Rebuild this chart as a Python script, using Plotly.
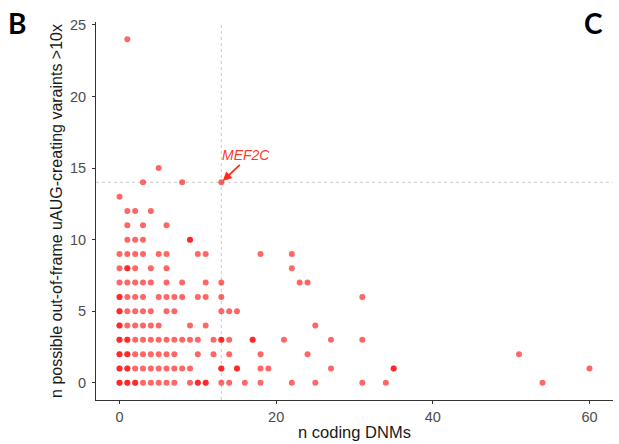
import plotly.graph_objects as go

# Data: (x = n coding DNMs, y = n possible out-of-frame uAUG-creating variants >10x)
rows = {
    24: [1],
    15: [5],
    14: [3, 8, 13],
    13: [0],
    12: [1, 2, 4],
    11: [1, 3, 6],
    10: [1, 2, 3, 9, 9],
    9: [0, 1, 2, 3, 5, 6, 10, 11, 18, 22],
    8: [0, 1, 1, 2, 4, 6, 22],
    7: [0, 1, 2, 3, 4, 6, 8, 11, 13, 23, 24],
    6: [0, 0, 1, 2, 3, 5, 6, 7, 8, 10, 11, 13, 31],
    5: [0, 0, 1, 2, 3, 4, 6, 7, 13, 14, 15],
    4: [0, 0, 1, 2, 3, 4, 5, 9, 11, 25],
    3: [0, 0, 1, 1, 2, 3, 4, 5, 6, 7, 8, 9, 10, 12, 13, 13, 14, 17, 17, 21, 27, 31],
    2: [0, 0, 1, 1, 2, 3, 4, 5, 6, 7, 10, 12, 14, 18, 24, 51],
    1: [0, 0, 1, 1, 2, 3, 4, 5, 6, 7, 8, 9, 13, 13, 15, 15, 18, 19, 27, 35, 35, 60],
    0: [0, 0, 1, 1, 2, 2, 3, 4, 5, 6, 7, 9, 10, 10, 11, 11, 13, 14, 16, 18, 22, 25, 31, 34, 54],
}
x_dnms = [x for y, xs in rows.items() for x in xs]
y_uaug = [y for y, xs in rows.items() for _ in xs]

x_ticks = [0, 20, 40, 60]
y_ticks = [0, 5, 10, 15, 20, 25]
gene_label = "MEF2C"
gene_x, gene_y = 13, 14

L, R, T, B = 96, 6, 22, 44
W, H = 619, 444
PW, PH = W - L - R, H - T - B

fig = go.Figure()
fig.add_trace(go.Scatter(
    x=x_dnms, y=y_uaug, mode="markers",
    marker=dict(color="rgba(255,0,0,0.6)", size=6, line=dict(width=0)),
    hoverinfo="x+y", showlegend=False,
))

fig.add_shape(type="line", xref="x", yref="paper", x0=gene_x, x1=gene_x, y0=0, y1=1,
              line=dict(color="#d4d4d4", width=1.2, dash="dot"), layer="below")
fig.add_shape(type="line", xref="paper", yref="y", x0=0, x1=1, y0=gene_y, y1=gene_y,
              line=dict(color="#d4d4d4", width=1.2, dash="dot"), layer="below")

# arrow
fig.add_annotation(x=gene_x, y=gene_y, xref="x", yref="y", text="",
                   showarrow=True, arrowhead=2, arrowsize=1, arrowwidth=1.8, arrowcolor="#ff2a1a",
                   ax=20, ay=-19, standoff=2)
# label
fig.add_annotation(x=gene_x, y=gene_y, xref="x", yref="y", text="<i>" + gene_label + "</i>",
                   showarrow=False, xshift=25, yshift=27,
                   font=dict(family="Liberation Sans, Arial", size=14, color="#ff3a2a"),
                   xanchor="center", yanchor="middle")

# panel letters
fig.add_annotation(x=(17 - L) / PW, y=1 - (23 - T) / PH, xref="paper", yref="paper", text="<b>B</b>",
                   showarrow=False, xanchor="center", yanchor="middle",
                   font=dict(family="Lato, Open Sans", size=28, color="black"))
fig.add_annotation(x=(593 - L) / PW, y=1 - (23 - T) / PH, xref="paper", yref="paper", text="<b>C</b>",
                   showarrow=False, xanchor="center", yanchor="middle",
                   font=dict(family="Lato, Open Sans", size=28, color="black"))

fig.update_layout(
    width=W, height=H,
    margin=dict(l=L, r=R, t=T, b=B),
    plot_bgcolor="white", paper_bgcolor="white",
    font=dict(family="Liberation Sans, Arial", size=13, color="#4d4d4d"),
    xaxis=dict(range=[-3, 63], tickvals=x_ticks, ticks="outside", ticklen=3, tickcolor="#333333",
               showline=True, linecolor="#333333", linewidth=1, showgrid=False, zeroline=False,
               tickfont=dict(size=14.5, color="#4d4d4d"), ticklabelstandoff=1,
               title=dict(text="n coding DNMs", font=dict(size=16.5, color="#1a1a1a"), standoff=2)),
    yaxis=dict(range=[-1.2, 25.2], tickvals=y_ticks, ticks="outside", ticklen=3, tickcolor="#333333",
               showline=True, linecolor="#333333", linewidth=1, showgrid=False, zeroline=False,
               tickfont=dict(size=14.5, color="#4d4d4d"), ticklabelstandoff=3,
               title=dict(text="n possible out-of-frame uAUG-creating varaints >10x",
                          font=dict(size=16, color="#1a1a1a"), standoff=3)),
)

fig.write_html("out.html")
